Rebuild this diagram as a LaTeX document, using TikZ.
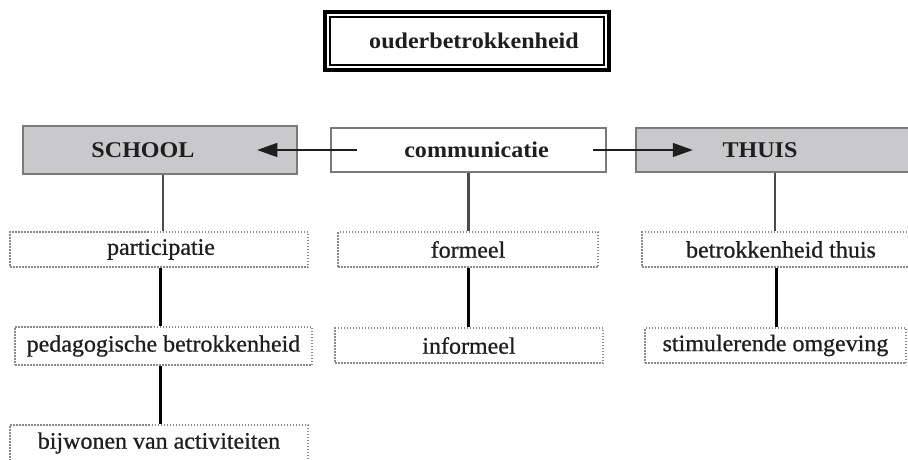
\documentclass[tikz,border=0pt]{standalone}
\usepackage{fontspec}
\setmainfont{Liberation Serif}[FakeStretch=1.07]
\newfontfamily\lowerfont{Liberation Serif}[FakeStretch=1.02, FakeBold=0.8]
\usetikzlibrary{arrows.meta}
\definecolor{boxgray}{HTML}{C9C9CC}
\definecolor{edgegray}{HTML}{7A7A7A}
\definecolor{dotgray}{HTML}{8A8A8A}
\definecolor{ink}{HTML}{1E1E1E}
\tikzset{
  txt/.style={font=\lowerfont\fontsize{23.5}{26}\selectfont, text=ink, inner sep=0pt},
  btxt/.style={font=\fontsize{22.5}{26}\selectfont\bfseries, text=ink, inner sep=0pt},
  topbox/.style={btxt, draw=black, line width=4pt, minimum width=284pt, minimum height=58pt},
  greybox/.style={btxt, draw=edgegray, fill=boxgray, line width=2.5pt, minimum height=48pt},
  commbox/.style={btxt, draw=edgegray, fill=white, line width=2.5pt, minimum height=44pt},
  dotbox/.style={txt, draw=dotgray, line width=1.1pt, dash pattern=on 1.5pt off 1.5pt, minimum height=35pt},
  thinlink/.style={draw=ink!80, line width=2.2pt},
  thicklink/.style={draw=black, line width=3pt},
  arrowlink/.style={draw=ink, line width=1.3pt, -{Triangle[length=20pt,width=14pt]}}
}
\begin{document}
\begin{tikzpicture}[x=1pt,y=-1pt]
\useasboundingbox (0,0) rectangle (908,459);
\clip (0,0) rectangle (908,459);
% top
\node[topbox] (top) at (467,41) {\hspace*{14pt}ouderbetrokkenheid};
\draw[line width=1.3pt] ([shift={(7pt,-7pt)}]top.north west) rectangle ([shift={(-7pt,7pt)}]top.south east);
% second row
\node[greybox, minimum width=274pt] (school) at (160,150) {\hspace*{-34pt}SCHOOL};
\node[commbox, minimum width=275pt] (comm) at (468.5,150) {\hspace*{16pt}communicatie};
\node[greybox, minimum width=278pt, minimum height=44pt] (thuis) at (775,150) {\hspace*{-30pt}THUIS};
% dotted boxes
\node[dotbox, minimum width=298pt] (part) at (159,249.5) {\hspace*{4pt}participatie};
\node[dotbox, minimum width=297pt, minimum height=38pt] (peda) at (163.5,346) {pedagogische betrokkenheid};
\node[dotbox, minimum width=298pt, minimum height=36pt] (bijw) at (159,443) {bijwonen van activiteiten};
\node[dotbox, minimum width=260pt] (form) at (468,249.5) {formeel};
\node[dotbox, minimum width=268pt] (inform) at (469,345.5) {informeel};
\node[dotbox, minimum width=268pt] (bthuis) at (776,249.5) {\hspace*{10pt}betrokkenheid thuis};
\node[dotbox, minimum width=261pt] (stim) at (775.5,345.5) {stimulerende omgeving};
% connectors
\draw[thinlink] ([xshift=3pt]school.south) -- ([xshift=3pt]school.south |- part.north);
\draw[thicklink] ([xshift=1pt]part.south) -- ([xshift=1pt]part.south |- peda.north);
\draw[thicklink] ([xshift=1pt]bijw.north |- peda.south) -- ([xshift=1pt]bijw.north);
\draw[thinlink] (comm.south) -- (comm.south |- form.north);
\draw[thicklink] (form.south) -- (form.south |- inform.north);
\draw[thinlink] (thuis.south) -- (thuis.south |- bthuis.north);
\draw[thicklink] (bthuis.south) -- (bthuis.south |- stim.north);
% arrows
\draw[arrowlink] ([xshift=27pt]comm.west) -- ([xshift=-41pt]school.east);
\draw[arrowlink] ([xshift=-14pt]comm.east) -- ([xshift=58pt]thuis.west);
\end{tikzpicture}
\end{document}
